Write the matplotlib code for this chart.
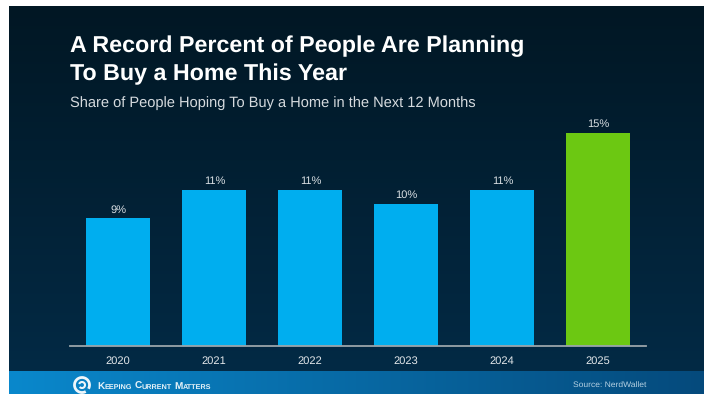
"""Bar chart: share of people hoping to buy a home in the next 12 months."""
import matplotlib
matplotlib.use("Agg")
import numpy as np
import matplotlib.pyplot as plt
from matplotlib.patches import Arc

YEARS = ["2020", "2021", "2022", "2023", "2024", "2025"]
SHARES = [9, 11, 11, 10, 11, 15]
BAR_COLORS = ["#00aeef", "#00aeef", "#00aeef", "#00aeef", "#00aeef", "#6cc812"]

W, H = 704, 394
plt.rcParams["font.family"] = ["Liberation Sans", "DejaVu Sans"]
plt.rcParams["text.hinting"] = "no_hinting"


def px_axes(fig, x0, y0, x1, y1):
    """Axes placed by pixel box, y measured from the top."""
    return fig.add_axes([x0 / W, 1 - y1 / H, (x1 - x0) / W, (y1 - y0) / H])


fig = plt.figure(figsize=(W / 100, H / 100), dpi=100, facecolor="white")

# panel background
bg = px_axes(fig, 9, 6, W, 371)
grad = np.linspace(0, 1, 256).reshape(-1, 1, 1)
top, bottom = np.array([0x01, 0x17, 0x24]), np.array([0x03, 0x2a, 0x45])
bg.imshow(top / 255 + grad * (bottom - top) / 255, aspect="auto")
bg.axis("off")

# footer band
foot = px_axes(fig, 9, 371, W, H)
grad = np.linspace(0, 1, 256).reshape(1, -1, 1)
left, right = np.array([0x0a, 0x88, 0xcc]), np.array([0x05, 0x4a, 0x7c])
foot.imshow(left / 255 + grad * (right - left) / 255, aspect="auto",
            extent=(9, W, H, 371))
foot.axis("off")

# logo ring and small-caps wordmark
foot.add_patch(Arc((82, 385), 15, 15, theta1=60, theta2=390, color="#eef6fa", lw=2.0))
foot.add_patch(Arc((82, 385), 6, 6, theta1=200, theta2=500, color="#eef6fa", lw=1.5))
word_x = 97
for word, rest in [("K", "EEPING"), ("C", "URRENT"), ("M", "ATTERS")]:
    t = foot.text(word_x, 389, word, color="#e6f2f8", fontsize=7.2, fontweight="bold",
                  ha="left", va="baseline")
    bb = t.get_window_extent(fig.canvas.get_renderer())
    word_x += bb.width
    t = foot.text(word_x, 389, rest, color="#e6f2f8", fontsize=5.2, fontweight="bold",
                  ha="left", va="baseline")
    bb = t.get_window_extent(fig.canvas.get_renderer())
    word_x += bb.width + 2.5
foot.text(646, 385, "Source: NerdWallet", color="#b4d0e2", fontsize=6.1,
          ha="right", va="center")

# chart: 14.2 px per percentage point above the baseline
ax = px_axes(fig, 70, 119, 646, 346)
ax.patch.set_alpha(0)
ax.bar(range(len(YEARS)), SHARES, width=0.667, color=BAR_COLORS, zorder=2)
for i, v in enumerate(SHARES):
    ax.annotate(f"{v}%", (i, v), xytext=(0.5, 2.5), textcoords="offset points",
                ha="center", va="bottom", color="#d9dfe3", fontsize=8)
ax.set_xlim(-0.5, 5.5)
ax.set_ylim(0, 227 / 14.2)
ax.set_xticks(range(len(YEARS)), YEARS)
ax.set_yticks([])
ax.tick_params(axis="x", length=0, pad=7.5, colors="#e3e7ea", labelsize=8)
for side in ("top", "left", "right"):
    ax.spines[side].set_visible(False)
ax.spines["bottom"].set_color("#9aa5ab")
ax.spines["bottom"].set_linewidth(1.3)

fig.text(70 / W, 1 - 46 / H, "A Record Percent of People Are Planning", color="white",
         fontsize=16.72, fontweight="bold", ha="left", va="center")
fig.text(70 / W, 1 - 74 / H, "To Buy a Home This Year", color="white",
         fontsize=16.72, fontweight="bold", ha="left", va="center")
fig.text(70 / W, 1 - 103 / H, "Share of People Hoping To Buy a Home in the Next 12 Months",
         color="#d5dade", fontsize=10.5, ha="left", va="center")

fig.savefig("out.png", dpi=100)
